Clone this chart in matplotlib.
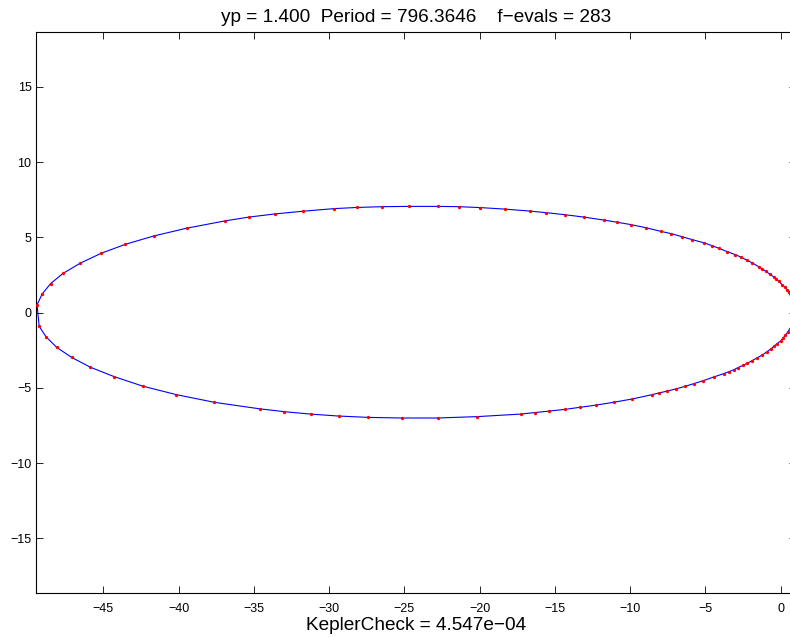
import matplotlib
matplotlib.use("Agg")
import matplotlib.pyplot as plt

plt.rcParams['font.family'] = ['Liberation Sans', 'DejaVu Sans']

# orbit samples, perihelion -> upper arc -> aphelion -> lower arc
x_upper = [1.00, 0.95, 0.82, 0.68, 0.55, 0.42, 0.29, 0.11, -0.09, -0.27, -0.45, -0.69,
           -0.96, -1.22, -1.46, -1.87, -2.26, -2.65, -3.00, -3.53, -4.08, -4.58, -5.08,
           -5.87, -6.56, -7.27, -7.95, -8.97, -9.95, -10.88, -11.73, -13.08, -14.35,
           -15.55, -16.67, -18.34, -19.95, -21.39, -22.77, -24.68, -26.45, -28.11,
           -29.68, -31.72, -33.58, -35.31, -36.89, -39.46, -41.66, -43.53, -45.15,
           -46.54, -47.67, -48.50, -49.07, -49.40]
y_upper = [0.00, 0.38, 0.76, 1.08, 1.34, 1.53, 1.68, 1.85, 2.07, 2.21, 2.37, 2.54,
           2.74, 2.90, 3.06, 3.30, 3.50, 3.70, 3.85, 4.05, 4.27, 4.46, 4.64,
           4.85, 5.05, 5.25, 5.40, 5.65, 5.85, 6.01, 6.15, 6.35, 6.51,
           6.64, 6.75, 6.88, 6.98, 7.04, 7.06, 7.06, 7.04, 6.99,
           6.91, 6.74, 6.56, 6.35, 6.10, 5.61, 5.09, 4.54, 3.94,
           3.28, 2.61, 1.93, 1.22, 0.52]

x_lower = [-49.26, -48.80, -48.09, -47.09, -45.85, -44.28, -42.39, -40.18, -37.61,
           -34.61, -32.97, -31.23, -29.37, -27.38, -25.18, -22.79, -20.18, -17.26,
           -16.34, -15.36, -14.35, -13.32, -12.23, -11.06, -9.87, -8.54, -8.05, -7.52,
           -6.92, -6.35, -5.74, -5.13, -4.45, -3.77, -3.44, -3.12, -2.82, -2.50, -2.22,
           -1.89, -1.53, -1.22, -0.93, -0.66, -0.43, -0.23, 0.00, 0.17, 0.33, 0.47,
           0.60, 0.75, 0.90, 0.99]
y_lower = [-0.91, -1.61, -2.31, -2.98, -3.63, -4.25, -4.88, -5.44, -5.96,
           -6.39, -6.58, -6.74, -6.87, -6.96, -7.00, -7.00, -6.91, -6.74,
           -6.64, -6.54, -6.43, -6.29, -6.14, -5.95, -5.74, -5.45, -5.33, -5.21,
           -5.06, -4.90, -4.71, -4.52, -4.28, -4.05, -3.93, -3.80, -3.65, -3.51, -3.37,
           -3.19, -2.99, -2.82, -2.62, -2.42, -2.24, -2.06, -1.89, -1.69, -1.49, -1.31,
           -1.11, -0.85, -0.50, -0.10]

x_ticks = [-45, -40, -35, -30, -25, -20, -15, -10, -5, 0]
y_ticks = [-15, -10, -5, 0, 5, 10, 15]

title_text = "yp = 1.400  Period = 796.3646    f\u2212evals = 283"
xlabel_text = "KeplerCheck = 4.547e\u221204"

xs = x_upper + x_lower
ys = y_upper + y_lower

fig = plt.figure(figsize=(7.90, 6.37), dpi=100)
# axes run a little past the right edge of the picture, like the cropped original
ax = fig.add_axes([0.04595, 0.0683, 0.9611, 0.8818])

ax.plot(xs, ys, color=(0, 0, 1), lw=0.8, zorder=2)
ax.plot(xs, ys, linestyle='none', marker='o', ms=2.4, mew=0,
        color=(1, 0, 0), zorder=3)

ax.set_xlim(-49.45, 1.0)
ax.set_ylim(-18.66, 18.66)
ax.set_xticks(x_ticks)
ax.set_yticks(y_ticks)
ax.tick_params(direction='in', length=5, width=0.6, top=True, right=True,
               labelsize=9, colors='black')
ax.tick_params(axis='x', pad=6.5)
ax.tick_params(axis='y', pad=3.5)
for s in ax.spines.values():
    s.set_linewidth(0.8)

ax.set_title(title_text, fontsize=13.7, pad=7)
ax.set_xlabel(xlabel_text, fontsize=13.7, labelpad=2)

fig.savefig("out.png", dpi=100)
